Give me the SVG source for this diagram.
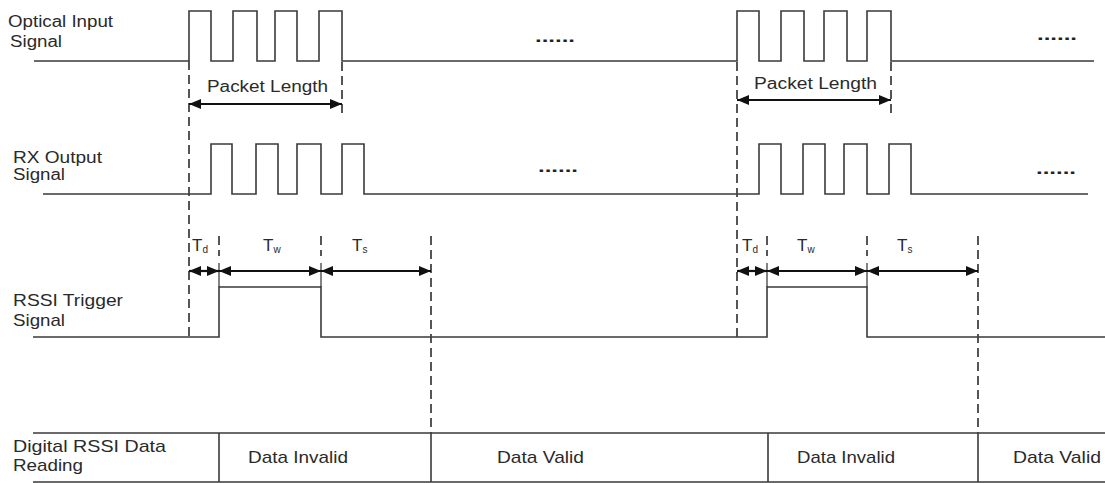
<svg xmlns="http://www.w3.org/2000/svg" width="1105" height="483" viewBox="0 0 1105 483">
<style>
text{font-family:"Liberation Sans",Arial,sans-serif;fill:#2a2a2a}
.lbl{font-size:16px}
.big{font-size:17px}
.sig{fill:none;stroke:#3a3a3a;stroke-width:1.6}
.tbl{stroke:#3a3a3a;stroke-width:1.6;fill:none}
.dash{stroke:#444;stroke-width:1.8;stroke-dasharray:9 5;fill:none}
.solid{stroke:#333;stroke-width:1.2;fill:none}
.arr{stroke:#111;stroke-width:2.2;fill:none;marker-start:url(#ah);marker-end:url(#ah)}
.dots{font-size:16px;font-weight:bold;fill:#222}
.tl{font-size:17px}
.sub{font-size:10px}
</style>
<defs>
<marker id="ah" viewBox="0 0 12 10" refX="12" refY="5" markerWidth="12" markerHeight="10" markerUnits="userSpaceOnUse" orient="auto-start-reverse">
<path d="M0,0 L12,5 L0,10 z" fill="#111"/>
</marker>
</defs>
<rect width="1105" height="483" fill="#fff"/>

<g id="optical-input">
<text class="lbl" x="8" y="27" textLength="105" lengthAdjust="spacingAndGlyphs">Optical Input</text>
<text class="lbl" x="10" y="47" textLength="52" lengthAdjust="spacingAndGlyphs">Signal</text>
<path class="sig" d="M34,61 H189 V11 H211 V61 H233 V11 H257 V61 H275 V11 H297 V61 H319 V11 H342 V61 H737 V11 H759 V61 H781 V11 H804 V61 H824 V11 H847 V61 H867 V11 H891 V61 H1094"/>
<text class="dots" x="535" y="42" textLength="40" lengthAdjust="spacingAndGlyphs">......</text>
<text class="dots" x="1037" y="40" textLength="40" lengthAdjust="spacingAndGlyphs">......</text>
</g>

<g id="rx-output">
<text class="lbl" x="13" y="163" textLength="89" lengthAdjust="spacingAndGlyphs">RX Output</text>
<text class="lbl" x="13" y="180" textLength="52" lengthAdjust="spacingAndGlyphs">Signal</text>
<path class="sig" d="M43,194 H211 V144 H232 V194 H256 V144 H278 V194 H297 V144 H321 V194 H342 V144 H364 V194 H759 V144 H781 V194 H803 V144 H825 V194 H844 V144 H867 V194 H889 V144 H911 V194 H1088"/>
<text class="dots" x="538" y="172" textLength="40" lengthAdjust="spacingAndGlyphs">......</text>
<text class="dots" x="1036" y="174" textLength="40" lengthAdjust="spacingAndGlyphs">......</text>
</g>

<g id="rssi-trigger">
<text class="big" x="13" y="306" textLength="110" lengthAdjust="spacingAndGlyphs">RSSI Trigger</text>
<text class="big" x="13" y="326" textLength="52" lengthAdjust="spacingAndGlyphs">Signal</text>
<path class="sig" d="M33,337 H219 V287 H321 V337 H767 V287 H867 V337 H1105"/>
</g>

<g id="digital-rssi">
<text class="big" x="13" y="452" textLength="153" lengthAdjust="spacingAndGlyphs">Digital RSSI Data</text>
<text class="big" x="13" y="471" textLength="70" lengthAdjust="spacingAndGlyphs">Reading</text>
<path class="tbl" d="M33,433 H1105 M33,482 H1105 M219,433 V482 M431,433 V482 M768,433 V482 M978,433 V482"/>
<text class="big" x="248" y="463" textLength="100" lengthAdjust="spacingAndGlyphs">Data Invalid</text>
<text class="big" x="497" y="463" textLength="87" lengthAdjust="spacingAndGlyphs">Data Valid</text>
<text class="big" x="797" y="463" textLength="98" lengthAdjust="spacingAndGlyphs">Data Invalid</text>
<text class="big" x="1013" y="463" textLength="88" lengthAdjust="spacingAndGlyphs">Data Valid</text>
</g>

<g id="connectors">
<path class="dash" d="M189,61 V337 M342,62 V115 M737,62 V337 M891,62 V113 M431,236 V433 M978,236 V433 M219,236 V256 M321,236 V256 M767,236 V256 M867,236 V256"/>
<path class="solid" d="M219,263 V287 M321,263 V287 M767,263 V287 M867,263 V287"/>
<line class="arr" x1="189" y1="104" x2="342" y2="104"/>
<line class="arr" x1="737" y1="100" x2="891" y2="100"/>
<line class="arr" x1="189" y1="271" x2="219" y2="271"/>
<line class="arr" x1="219" y1="271" x2="321" y2="271"/>
<line class="arr" x1="321" y1="271" x2="431" y2="271"/>
<line class="arr" x1="737" y1="271" x2="767" y2="271"/>
<line class="arr" x1="767" y1="271" x2="867" y2="271"/>
<line class="arr" x1="867" y1="271" x2="978" y2="271"/>
</g>

<g id="labels">
<text class="lbl" x="207" y="92" textLength="121" lengthAdjust="spacingAndGlyphs">Packet Length</text>
<text class="lbl" x="754" y="89" textLength="123" lengthAdjust="spacingAndGlyphs">Packet Length</text>
<text class="tl" x="192" y="251">T<tspan class="sub" dy="2">d</tspan></text>
<text class="tl" x="263" y="251">T<tspan class="sub" dy="2">w</tspan></text>
<text class="tl" x="352" y="251">T<tspan class="sub" dy="2">s</tspan></text>
<text class="tl" x="742" y="251">T<tspan class="sub" dy="2">d</tspan></text>
<text class="tl" x="797" y="251">T<tspan class="sub" dy="2">w</tspan></text>
<text class="tl" x="897" y="251">T<tspan class="sub" dy="2">s</tspan></text>
</g>
</svg>
